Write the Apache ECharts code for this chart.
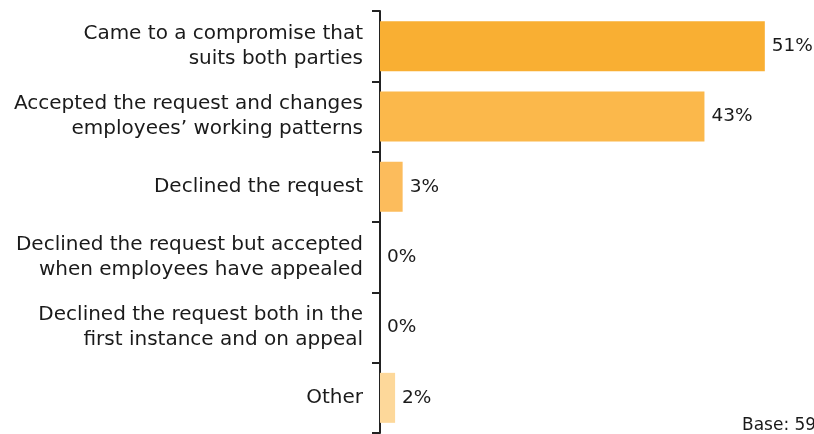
<!DOCTYPE html>
<html>
<head>
<meta charset="utf-8">
<script src="https://cdn.jsdelivr.net/npm/echarts@6/dist/echarts.min.js"></script>
<style>
  html, body { margin: 0; padding: 0; background: #fff; }
  #chart { width: 814px; height: 434px; }
</style>
</head>
<body>
<div id="chart"></div>
<script>
// Employer responses to flexible working requests (top to bottom)
const categories = [
  'Came to a compromise that\nsuits both parties',
  'Accepted the request and changes\nemployees\u2019 working patterns',
  'Declined the request',
  'Declined the request but accepted\nwhen employees have appealed',
  'Declined the request both in the\nfirst instance and on appeal',
  'Other'
];
const values = [51, 43, 3, 0, 0, 2];
const barColors = ['#F9AF33', '#FBB84B', '#FCBC5C', '#FCC46C', '#FCCC80', '#FDD89A'];
const baseNote = 'Base: 59';

const FONT = '"DejaVu Sans", "Noto Sans", sans-serif';

const chart = echarts.init(document.getElementById('chart'));
chart.setOption({
  animation: false,
  grid: { left: 380, right: 19, top: 11, bottom: 1, containLabel: false },
  xAxis: {
    type: 'value', min: 0, max: 55,
    show: false
  },
  yAxis: {
    type: 'category',
    data: categories,
    inverse: true,
    axisLine: { show: true, lineStyle: { color: '#222', width: 2 } },
    axisTick: { show: true, length: 8, lineStyle: { color: '#222', width: 2 } },
    axisLabel: {
      margin: 17, color: '#1a1a1a', fontFamily: FONT, fontSize: 20,
      lineHeight: 25, align: 'right', padding: [3, 0, 0, 0]
    }
  },
  series: [{
    type: 'bar',
    barWidth: 50,
    data: values.map((v, i) => ({ value: v, itemStyle: { color: barColors[i] } })),
    label: {
      show: true, position: 'right', distance: 7,
      formatter: p => p.value + '%',
      color: '#1a1a1a', fontFamily: FONT, fontSize: 18.5
    }
  }],
  graphic: [{
    type: 'text', left: 742, top: 417,
    style: { text: baseNote, fill: '#1a1a1a', font: '17px ' + FONT }
  }]
});
</script>
</body>
</html>
